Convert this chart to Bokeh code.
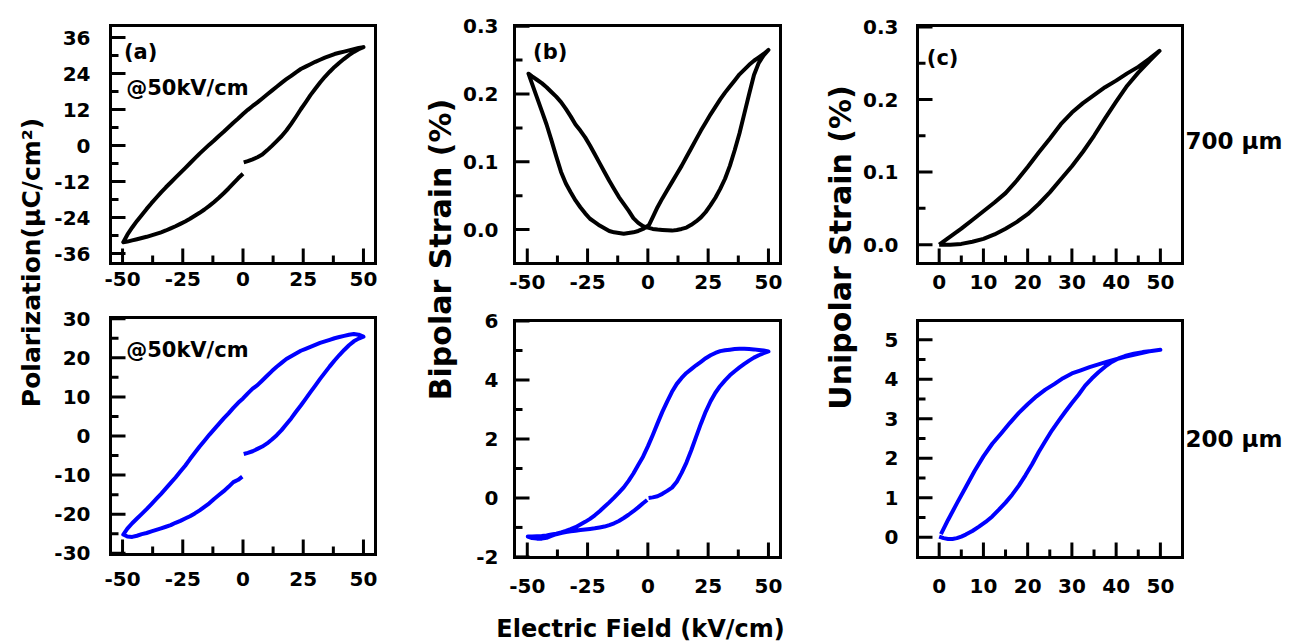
from math import pi
from bokeh.plotting import figure
from bokeh.layouts import row, column
from bokeh.models import Range1d, Label
from bokeh.embed import file_html
from bokeh.resources import INLINE

FONT = "DejaVu Sans"

# ---------------- data ----------------
pa1_x = [0.3, 2, 4, 6, 8, 10, 12, 14, 16, 18, 20, 22, 24, 26, 28, 30, 32, 34, 36, 38, 40, 42, 44, 46, 48, 50,
         48, 46, 44, 42, 40, 38, 36, 34, 32, 30, 28, 26, 24, 22, 20, 18, 16, 14, 12, 10, 8, 6, 4, 2, 0,
         -2, -4, -6, -8, -10, -12, -14, -16, -18, -20, -22, -24, -26, -28, -30, -32, -34, -36, -38, -40,
         -42, -44, -46, -48, -49.7,
         -48, -46, -44, -42, -40, -38, -36, -34, -32, -30, -28, -26, -24, -22, -20, -18, -16, -14, -12,
         -10, -8, -6, -4, -2, 0]
pa1_y = [-5.6, -5.2, -4.6, -3.9, -3.0, -1.6, -0.1, 1.5, 3.1, 5.0, 7.2, 9.6, 12.1, 14.4, 16.8, 18.9, 21.0,
         22.9, 24.6, 26.2, 27.6, 28.9, 30.1, 31.2, 32.1, 32.8,
         32.5, 32.1, 31.7, 31.3, 30.9, 30.5, 29.9, 29.3, 28.6, 27.9, 27.1, 26.3, 25.5, 24.4, 23.2, 22.1,
         20.9, 19.6, 18.3, 17.0, 15.7, 14.4, 13.2, 11.9, 10.5,
         9.0, 7.6, 6.1, 4.6, 3.2, 1.7, 0.3, -1.2, -2.7, -4.3, -5.9, -7.5, -9.1, -10.7, -12.3, -13.9, -15.6,
         -17.4, -19.2, -21.1, -23.1, -25.1, -27.3, -29.7, -32.2,
         -32.0, -31.6, -31.2, -30.8, -30.4, -29.9, -29.4, -28.9, -28.3, -27.6, -26.9, -26.1, -25.3, -24.4,
         -23.4, -22.4, -21.3, -20.1, -18.8, -17.4, -15.9, -14.3, -12.6, -10.9, -9.4]
pa2_x = [0.3, 2, 4, 6, 8, 10, 12, 14, 16, 18, 20, 22, 24, 26, 28, 30, 32, 34, 36, 38, 40, 42, 44, 46, 48, 50,
         48, 46, 44, 42, 40, 38, 36, 34, 32, 30, 28, 26, 24, 22, 20, 18, 16, 14, 12, 10, 8, 6, 4, 2, 0,
         -2, -4, -6, -8, -10, -12, -14, -16, -18, -20, -22, -24, -26, -28, -30, -32, -34, -36, -38, -40,
         -42, -44, -46, -48, -49.7,
         -48, -46, -44, -42, -40, -38, -36, -34, -32, -30, -28, -26, -24, -22, -20, -18, -16, -14, -12,
         -10, -8, -6, -4, -2, -0.3]
pa2_y = [-4.6, -4.3, -3.9, -3.3, -2.7, -1.9, -0.9, 0.2, 1.5, 3.0, 4.5, 6.2, 7.8, 9.5, 11.2, 12.9, 14.6,
         16.2, 17.8, 19.3, 20.7, 22.0, 23.2, 24.2, 24.9, 25.4,
         25.9, 26.1, 25.9, 25.6, 25.3, 25.0, 24.6, 24.2, 23.8, 23.3, 22.8, 22.3, 21.8, 21.1, 20.4, 19.7,
         18.7, 17.7, 16.6, 15.4, 14.2, 13.0, 12.1, 10.9, 9.6,
         8.5, 7.2, 5.8, 4.5, 3.1, 1.7, 0.3, -1.2, -2.7, -4.3, -5.9, -7.6, -9.1, -10.6, -12.0, -13.4, -14.8,
         -16.1, -17.4, -18.7, -19.9, -21.1, -22.3, -23.7, -25.2,
         -25.7, -25.8, -25.5, -25.1, -24.8, -24.4, -24.0, -23.6, -23.2, -22.8, -22.2, -21.7, -21.1, -20.5,
         -19.8, -19.0, -18.1, -17.2, -16.1, -15.1, -14.1, -13.0, -11.8, -11.2, -10.4]
pb1_x = [0, 2, 4, 6, 8, 10, 12, 14, 16, 18, 20, 22, 24, 26, 28, 30, 32, 34, 36, 38, 40, 42, 44, 46, 48, 50,
         48, 46, 44, 42, 40, 38, 36, 34, 32, 30, 28, 26, 24, 22, 20, 18, 16, 14, 12, 10, 8, 6, 4, 2, 0.5,
         -1, -2, -4, -6, -8, -10, -12, -14, -16, -18, -20, -22, -24, -26, -28, -30, -32, -34, -36, -38,
         -40, -42, -44, -46, -48, -49.5,
         -48, -46, -44, -42, -40, -38, -36, -34, -32, -30, -28, -26, -24, -22, -20, -18, -16, -14, -12,
         -10, -8, -6, -4, -2, 0]
pb1_y = [0.003, 0.001, 0.0, -0.0005, -0.001, -0.0015, -0.0005, 0.001, 0.003, 0.007, 0.012, 0.018, 0.026,
         0.036, 0.047, 0.060, 0.075, 0.094, 0.117, 0.142, 0.171, 0.200, 0.228, 0.246, 0.257, 0.265,
         0.259, 0.254, 0.249, 0.243, 0.236, 0.229, 0.220, 0.211, 0.202, 0.192, 0.181, 0.170, 0.158,
         0.146, 0.133, 0.120, 0.107, 0.094, 0.082, 0.070, 0.058, 0.046, 0.033, 0.018, 0.007,
         0.003, 0.001, -0.002, -0.004, -0.005, -0.006, -0.005, -0.004, -0.002, 0.002, 0.006, 0.011, 0.016,
         0.024, 0.033, 0.043, 0.055, 0.068, 0.085, 0.108, 0.132, 0.155, 0.175, 0.195, 0.215, 0.230,
         0.226, 0.221, 0.216, 0.210, 0.203, 0.196, 0.188, 0.178, 0.167, 0.155, 0.146, 0.136, 0.124,
         0.111, 0.098, 0.085, 0.072, 0.060, 0.048, 0.038, 0.028, 0.017, 0.010, 0.005, 0.003]
pb2_x = [0.3, 2, 4, 6, 8, 10, 12, 14, 16, 18, 20, 22, 24, 26, 28, 30, 32, 34, 36, 38, 40, 42, 44, 46, 48, 50,
         48, 46, 44, 42, 40, 38, 36, 34, 32, 30, 28, 26, 24, 22, 20, 18, 16, 14, 12, 10, 8, 6, 4, 2, 0,
         -2, -4, -6, -8, -10, -12, -14, -16, -18, -20, -22, -24, -26, -28, -30, -32, -34, -36, -38, -40,
         -42, -44, -46, -48, -49.8,
         -48, -46, -44, -42, -40, -38, -36, -34, -32, -30, -28, -26, -24, -22, -20, -18, -16, -14, -12,
         -10, -8, -6, -4, -2, -0.3]
pb2_y = [0.0, 0.02, 0.06, 0.14, 0.24, 0.35, 0.55, 0.85, 1.20, 1.62, 2.07, 2.52, 2.93, 3.28, 3.57, 3.80,
         3.99, 4.16, 4.30, 4.43, 4.55, 4.66, 4.76, 4.84, 4.91, 4.97,
         5.00, 5.02, 5.04, 5.05, 5.06, 5.06, 5.05, 5.03, 5.01, 4.98, 4.92, 4.84, 4.74, 4.62, 4.50, 4.37,
         4.24, 4.07, 3.87, 3.60, 3.27, 2.92, 2.53, 2.13, 1.75,
         1.40, 1.12, 0.83, 0.58, 0.36, 0.18, 0.01, -0.15, -0.30, -0.45, -0.59, -0.71, -0.81, -0.90, -0.99,
         -1.06, -1.12, -1.17, -1.21, -1.24, -1.27, -1.29, -1.30, -1.31, -1.31,
         -1.36, -1.38, -1.38, -1.35, -1.29, -1.23, -1.19, -1.16, -1.13, -1.11, -1.09, -1.07, -1.05, -1.03,
         -1.00, -0.97, -0.92, -0.86, -0.78, -0.68, -0.57, -0.45, -0.32, -0.18, -0.07]
pc1_x = [0, 2.5, 5, 7.5, 10, 12.5, 15, 17.5, 20, 22.5, 25, 27.5, 30, 32.5, 35, 37.5, 40, 42.5, 45, 47.5, 49.8,
         47.5, 45, 42.5, 40, 37.5, 35, 32.5, 30, 27.5, 25, 22.5, 20, 17.5, 15, 12.5, 10, 7.5, 5, 2.5, 0]
pc1_y = [0.0, 0.0, 0.001, 0.004, 0.008, 0.014, 0.022, 0.031, 0.042, 0.056, 0.072, 0.090, 0.108, 0.128,
         0.150, 0.174, 0.197, 0.219, 0.237, 0.253, 0.267,
         0.256, 0.245, 0.236, 0.226, 0.217, 0.206, 0.195, 0.182, 0.166, 0.146, 0.127, 0.107, 0.088, 0.071,
         0.058, 0.046, 0.034, 0.022, 0.011, 0.0]
pc2_x = [0, 1, 2, 3, 4, 5, 6, 7.5, 9, 10.5, 12, 13.5, 15, 16.5, 18, 19.5, 21, 22.5, 24, 25.5, 27, 28.5, 30,
         31.5, 33, 34.5, 36, 37.5, 39, 40.5, 42, 44, 46, 48, 50,
         48, 46, 44, 42, 40, 38, 36, 34, 32, 30, 28, 26, 24, 22, 20, 18, 16, 14, 12, 10, 8, 6, 4, 2, 0.4]
pc2_y = [0.02, -0.02, -0.04, -0.04, -0.02, 0.02, 0.07, 0.16, 0.27, 0.39, 0.53, 0.70, 0.88, 1.08, 1.31,
         1.57, 1.85, 2.16, 2.44, 2.71, 2.95, 3.18, 3.40, 3.61, 3.84, 4.02, 4.18, 4.32, 4.44, 4.53, 4.59,
         4.65, 4.69, 4.72, 4.75,
         4.72, 4.67, 4.62, 4.57, 4.51, 4.45, 4.38, 4.31, 4.23, 4.15, 4.03, 3.88, 3.74, 3.57, 3.37, 3.15,
         2.90, 2.63, 2.37, 2.05, 1.68, 1.27, 0.86, 0.44, 0.08]

# tick values and tick labels
xt_bi = [-50, -25, 0, 25, 50]
xl_bi = ["-50", "-25", "0", "25", "50"]
xt_bi_minor = [-37.5, -12.5, 12.5, 37.5]
xt_uni = [0, 10, 20, 30, 40, 50]
xl_uni = ["0", "10", "20", "30", "40", "50"]
xt_uni_minor = [5, 15, 25, 35, 45]
yt_a1 = [-36, -24, -12, 0, 12, 24, 36]
yl_a1 = ["-36", "-24", "-12", "0", "12", "24", "36"]
yt_a1_minor = [-30, -18, -6, 6, 18, 30]
yt_a2 = [-30, -20, -10, 0, 10, 20, 30]
yl_a2 = ["-30", "-20", "-10", "0", "10", "20", "30"]
yt_a2_minor = [-25, -15, -5, 5, 15, 25]
yt_s1 = [0.0, 0.1, 0.2, 0.3]
yl_s1 = ["0.0", "0.1", "0.2", "0.3"]
yt_s1_minor = [0.05, 0.15, 0.25]
yt_b2 = [-2, 0, 2, 4, 6]
yl_b2 = ["-2", "0", "2", "4", "6"]
yt_b2_minor = [-1, 1, 3, 5]
yt_c2 = [0, 1, 2, 3, 4, 5]
yl_c2 = ["0", "1", "2", "3", "4", "5"]
yt_c2_minor = [0.5, 1.5, 2.5, 3.5, 4.5]

BLACK = "#000000"
BLUE = "#0000FF"
MAJ_LEN, MIN_LEN = 15, 8   # inward tick lengths in pixels
TW = 3                     # tick thickness in pixels
LW = 4


def lab(p, x, y, s, size="20px", align="left", angle=0.0):
    p.add_layout(Label(x=x, y=y, text=s, text_align=align, text_baseline="middle", angle=angle,
                       text_font=FONT, text_font_style="bold", text_font_size=size,
                       text_color="black"))


def panel(W, Hc, box, xd, yd, xt, xl, xtm, yt, yl, ytm, xs, ys, cx, cy, color):
    """box = (left, right, top, bottom) pixel position of the plotting box inside a W x Hc canvas;
    xd / yd are the data limits of that box."""
    L, R, T, B = box
    sx = (xd[1] - xd[0]) / (R - L)      # data units per pixel
    sy = (yd[1] - yd[0]) / (B - T)
    xr = Range1d(xd[0] - L * sx, xd[1] + (W - R) * sx)
    yr = Range1d(yd[0] - (Hc - B) * sy, yd[1] + T * sy)
    p = figure(width=W, height=Hc, x_range=xr, y_range=yr, min_border=0,
               toolbar_location=None, output_backend="svg", tools="", title=None,
               x_axis_location=None, y_axis_location=None)
    p.grid.visible = False
    p.outline_line_color = None
    p.background_fill_color = "white"
    p.border_fill_color = "white"
    # the box, drawn as a closed line
    p.line([xd[0], xd[1], xd[1], xd[0], xd[0]], [yd[0], yd[0], yd[1], yd[1], yd[0]],
           line_width=3, line_color="black", line_join="miter", line_cap="square")
    # the data curve
    p.line(cx, cy, line_width=LW, color=color, line_join="round")
    # inward tick marks on the left and bottom edges of the box (drawn last, on top)
    for vals, ln in ((yt, MAJ_LEN), (ytm, MIN_LEN)):
        p.quad(left=[xd[0]] * len(vals), right=[xd[0] + ln * sx] * len(vals),
               bottom=[v - TW / 2 * sy for v in vals], top=[v + TW / 2 * sy for v in vals],
               fill_color="black", line_color=None)
    for vals, ln in ((xt, MAJ_LEN), (xtm, MIN_LEN)):
        p.quad(left=[v - TW / 2 * sx for v in vals], right=[v + TW / 2 * sx for v in vals],
               bottom=[yd[0]] * len(vals), top=[yd[0] + ln * sy] * len(vals),
               fill_color="black", line_color=None)
    # tick labels
    for v, t in zip(yt, yl):
        lab(p, xd[0] - ys * sx, v, t, align="right")
    for v, t in zip(xt, xl):
        lab(p, v, yd[0] - xs * sy, t, align="center")
    return p, sx, sy


def strip(w, h, s, x, y, size):
    p = figure(width=w, height=h, x_range=Range1d(0, w), y_range=Range1d(0, h),
               min_border=0, toolbar_location=None, output_backend="svg", tools="",
               x_axis_location=None, y_axis_location=None, title=None)
    p.outline_line_color = None
    p.grid.visible = False
    lab(p, x, y, s, size=size, align="center", angle=pi / 2)
    return p


TOP_H, BOT_H = 300, 343

a1, _, _ = panel(350, TOP_H, (60, 325, 25, 263), (-55, 55), (-39.3, 40),
                 xt_bi, xl_bi, xt_bi_minor, yt_a1, yl_a1, yt_a1_minor, 15, 20, pa1_x, pa1_y, BLACK)
lab(a1, -49.4, 31.3, "(a)", size="21px")
lab(a1, -48.5, 19.3, "@50kV/cm", size="21px")

a2, _, _ = panel(350, BOT_H, (60, 325, 17, 254), (-55, 55), (-30.3, 30.3),
                 xt_bi, xl_bi, xt_bi_minor, yt_a2, yl_a2, yt_a2_minor, 24, 20, pa2_x, pa2_y, BLUE)
lab(a2, -48.5, 21.9, "@50kV/cm", size="21px")

b1, _, _ = panel(340, TOP_H, (54, 320, 25, 263), (-55.3, 55), (-0.05, 0.301),
                 xt_bi, xl_bi, xt_bi_minor, yt_s1, yl_s1, yt_s1_minor, 18, 16, pb1_x, pb1_y, BLACK)
lab(b1, -47.6, 0.262, "(b)", size="21px")

b2, b2_sx, b2_sy = panel(340, BOT_H, (54, 320, 20, 257), (-55.3, 55), (-2.02, 6.02),
                         xt_bi, xl_bi, xt_bi_minor, yt_b2, yl_b2, yt_b2_minor, 28, 16, pb2_x, pb2_y, BLUE)
# x title: centred 126 px right of the box's left edge, 71 px below the box
lab(b2, -55.3 + 126 * b2_sx, -2.02 - 71 * b2_sy, "Electric Field (kV/cm)", size="24px", align="center")

c1, c1_sx, c1_sy = panel(429, TOP_H, (57, 322, 25, 263), (-4.9, 55), (-0.026, 0.302),
                         xt_uni, xl_uni, xt_uni_minor, yt_s1, yl_s1, yt_s1_minor, 18, 19, pc1_x, pc1_y, BLACK)
lab(c1, -2.8, 0.257, "(c)", size="21px")
lab(c1, 55 + 3 * c1_sx, -0.026 + 123 * c1_sy, "700 μm", size="23px")

c2, c2_sx, c2_sy = panel(429, BOT_H, (57, 322, 20, 257), (-4.9, 55), (-0.51, 5.49),
                         xt_uni, xl_uni, xt_uni_minor, yt_c2, yl_c2, yt_c2_minor, 28, 19, pc2_x, pc2_y, BLUE)
lab(c2, 55 + 3 * c2_sx, -0.51 + 119 * c2_sy, "200 μm", size="23px")

H = TOP_H + BOT_H
sa = strip(50, H, "Polarization(μC/cm²)", 31, H - 262, "25px")
sb = strip(60, H, "Bipolar Strain (%)", 40, H - 249, "30px")
sc = strip(60, H, "Unipolar Strain (%)", 40, H - 247, "30px")

layout = row(sa, column(a1, a2), sb, column(b1, b2), sc, column(c1, c2))

open("out.html", "w").write(file_html(layout, INLINE))
